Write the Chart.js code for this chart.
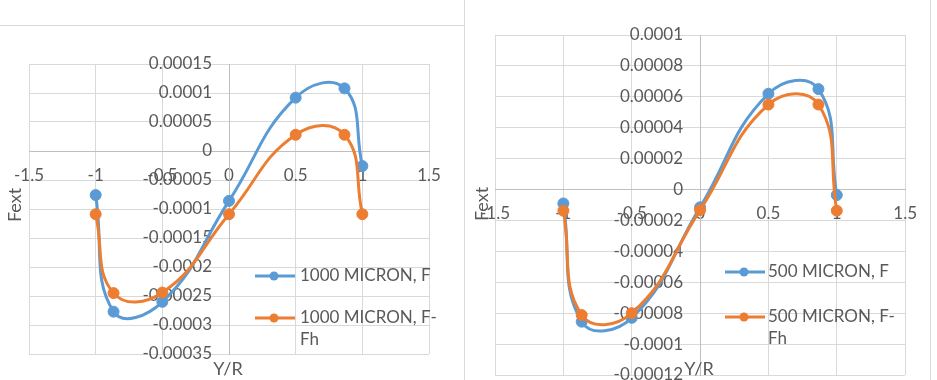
<!DOCTYPE html>
<html>
<head>
<meta charset="utf-8">
<script src="https://cdn.jsdelivr.net/npm/chart.js@4"></script>
<style>
  html, body { margin: 0; padding: 0; background: #fff; overflow: hidden; }
  body { width: 937px; height: 380px; position: relative; }
  .box { position: absolute; top: 0; height: 400px; }
  .line { position: absolute; background: #d9d9d9; }
</style>
</head>
<body>
<div class="box" style="left:0;width:464px"><canvas id="chart1000"></canvas></div>
<div class="box" style="left:466px;width:465px"><canvas id="chart500"></canvas></div>
<div class="line" style="left:0;top:25px;width:464px;height:1px"></div>
<div class="line" style="left:464px;top:0;width:1px;height:380px"></div>
<div class="line" style="left:930px;top:0;width:1px;height:380px"></div>
<script>
// Y/R positions shared by all series
const yR = [-1, -0.866, -0.5, 0, 0.5, 0.866, 1];

// 1000 micron
const f1000 = [-0.000076, -0.000277, -0.00026, -0.000086, 0.000092, 0.000108, -0.000026];
const fFh1000 = [-0.000109, -0.000245, -0.000244, -0.000109, 0.000028, 0.000028, -0.000109];

// 500 micron
const f500 = [-0.000009, -0.0000855, -0.000083, -0.0000115, 0.000062, 0.000065, -0.0000036];
const fFh500 = [-0.0000137, -0.0000812, -0.00008, -0.0000133, 0.000055, 0.000055, -0.0000137];

const labels1000 = ['1000 MICRON, F', '1000 MICRON, F-Fh'];
const labels500 = ['500 MICRON, F', '500 MICRON, F-Fh'];

const xTicks = [-1.5, -1, -0.5, 0, 0.5, 1, 1.5];
const yTicks1000 = [0.00015, 0.0001, 0.00005, 0, -0.00005, -0.0001, -0.00015, -0.0002, -0.00025, -0.0003, -0.00035];
const yTicks500 = [0.0001, 0.00008, 0.00006, 0.00004, 0.00002, 0, -0.00002, -0.00004, -0.00006, -0.00008, -0.0001, -0.00012];

const BLUE = '#5b9bd5';
const ORANGE = '#ed7d31';
const TEXT = '#595959';
const FONT = 'Lato, "Open Sans", sans-serif';

Chart.defaults.font.family = FONT;
Chart.defaults.font.size = 17;
Chart.defaults.color = TEXT;

function points(xs, ys) {
    return xs.map((x, i) => ({ x: x, y: ys[i] }));
}

function fmt(v) {
    return String(Number(Number(v).toPrecision(6)));
}

// y tick labels sit left of the x=0 axis line; chart.js ignores padding there
const yLabels = {
    id: 'yLabels',
    beforeDatasetsDraw(chart, args, opts) {
        const ctx = chart.ctx;
        const xs = chart.scales.x;
        const ys = chart.scales.y;
        const x = xs.getPixelForValue(0) - opts.gap;
        ctx.save();
        ctx.fillStyle = TEXT;
        ctx.font = '17px ' + FONT;
        ctx.textAlign = 'right';
        ctx.textBaseline = 'middle';
        opts.ticks.forEach((v) => ctx.fillText(fmt(v), x, ys.getPixelForValue(v)));
        ctx.restore();
    }
};

// axis titles + legend drawn inside the plot, like the spreadsheet original
const decorations = {
    id: 'decorations',
    afterDraw(chart, args, opts) {
        const ctx = chart.ctx;
        ctx.save();
        ctx.fillStyle = TEXT;
        ctx.font = '18px ' + FONT;
        ctx.textAlign = 'center';
        ctx.textBaseline = 'middle';
        ctx.fillText(opts.xTitle, opts.xTitleAt[0], opts.xTitleAt[1]);
        ctx.save();
        ctx.translate(opts.yTitleAt[0], opts.yTitleAt[1]);
        ctx.rotate(-Math.PI / 2);
        ctx.fillText(opts.yTitle, 0, 0);
        ctx.restore();

        ctx.font = '17px ' + FONT;
        ctx.textAlign = 'left';
        let y = opts.legendY;
        chart.data.datasets.forEach((ds) => {
            const x0 = opts.legendX;
            ctx.strokeStyle = ds.borderColor;
            ctx.lineWidth = 3;
            ctx.beginPath();
            ctx.moveTo(x0, y);
            ctx.lineTo(x0 + 40, y);
            ctx.stroke();
            ctx.fillStyle = ds.borderColor;
            ctx.beginPath();
            ctx.arc(x0 + 19, y, 4.5, 0, Math.PI * 2);
            ctx.fill();

            let lines = [ds.label];
            const cut = ds.label.lastIndexOf('-');
            if (ctx.measureText(ds.label).width > opts.maxWidth && cut > 0) {
                lines = [ds.label.slice(0, cut + 1), ds.label.slice(cut + 1)];
            }
            ctx.fillStyle = TEXT;
            lines.forEach((t, i) => ctx.fillText(t, opts.textX, y + i * 22));
            y += opts.rowGap;
        });
        ctx.restore();
    }
};

function makeChart(id, labels, seriesF, seriesFh, yTicks, padding, deco) {
    return new Chart(
        document.getElementById(id),
        {
            type: 'scatter',
            data: {
                datasets: [{
                    label: labels[0],
                    data: points(yR, seriesF),
                    borderColor: BLUE,
                    backgroundColor: BLUE,
                    order: 1
                }, {
                    label: labels[1],
                    data: points(yR, seriesFh),
                    borderColor: ORANGE,
                    backgroundColor: ORANGE,
                    order: 0
                }]
            },
            options: {
                responsive: true,
                maintainAspectRatio: false,
                animation: false,
                layout: { padding: padding },
                datasets: {
                    scatter: {
                        showLine: true,
                        borderWidth: 3,
                        pointRadius: 5.5,
                        pointBorderWidth: 1,
                        tension: 0.45,
                        clip: false
                    }
                },
                plugins: {
                    legend: { display: false },
                    tooltip: { enabled: false },
                    yLabels: { ticks: yTicks, gap: 17 },
                    decorations: deco
                },
                scales: {
                    x: {
                        type: 'linear',
                        min: xTicks[0],
                        max: xTicks[xTicks.length - 1],
                        position: { y: 0 },
                        afterBuildTicks: (s) => { s.ticks = xTicks.map((v) => ({ value: v })); },
                        grid: { color: '#d9d9d9', drawTicks: false },
                        border: { color: '#bfbfbf' },
                        ticks: { padding: 14, maxRotation: 0, autoSkip: false, callback: fmt }
                    },
                    y: {
                        type: 'linear',
                        min: yTicks[yTicks.length - 1],
                        max: yTicks[0],
                        position: { x: 0 },
                        afterBuildTicks: (s) => { s.ticks = yTicks.map((v) => ({ value: v })); },
                        grid: { color: '#d9d9d9', drawTicks: false },
                        border: { color: '#bfbfbf' },
                        ticks: { display: false }
                    }
                }
            },
            plugins: [yLabels, decorations]
        }
    );
}

const charts = {};

charts.micron1000 = makeChart('chart1000', labels1000, f1000, fFh1000, yTicks1000,
    { left: 26, right: 35, top: 64, bottom: 46 },
    { xTitle: 'Y/R', xTitleAt: [228, 369], yTitle: 'Fext', yTitleAt: [15, 205],
      legendX: 255, legendY: 276, textX: 300, rowGap: 42, maxWidth: 125 });

charts.micron500 = makeChart('chart500', labels500, f500, fFh500, yTicks500,
    { left: 25, right: 24, top: 35, bottom: 25 },
    { xTitle: 'Y/R', xTitleAt: [233, 369], yTitle: 'Fext', yTitleAt: [16, 204],
      legendX: 259, legendY: 272, textX: 302, rowGap: 45, maxWidth: 125 });
</script>
</body>
</html>
